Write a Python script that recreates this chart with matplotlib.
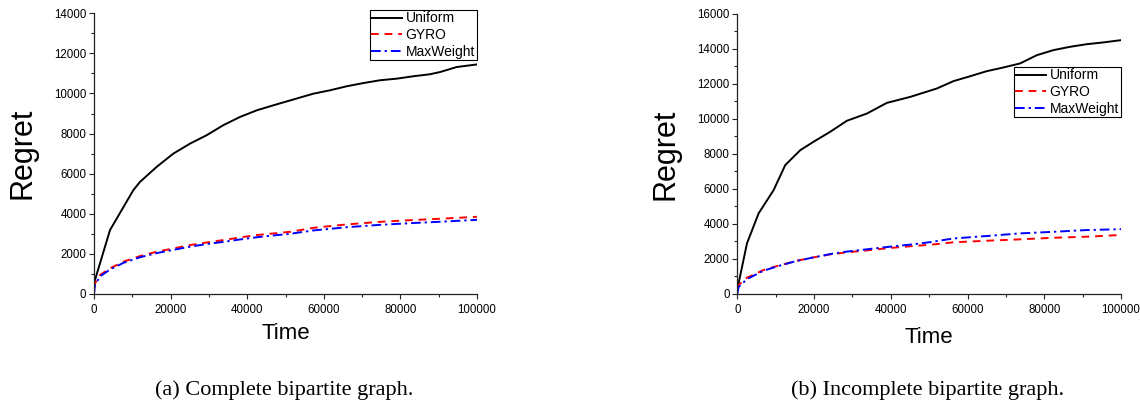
import matplotlib
matplotlib.use("Agg")
import matplotlib.pyplot as plt
from matplotlib.ticker import MultipleLocator

plt.rcParams['font.family'] = ['Liberation Sans', 'DejaVu Sans']

# ---- data: (a) complete bipartite graph ----
t_a_uni = [0, 260, 4180, 10270, 12000, 16360, 20700, 25070, 29420, 33760, 38120, 42480,
           46810, 52920, 57260, 61620, 65970, 70320, 74670, 79030, 83370, 87730, 90340,
           94700, 100000]
v_a_uni = [300, 700, 3190, 5180, 5590, 6340, 7000, 7500, 7920, 8420, 8830, 9160,
           9410, 9750, 9990, 10160, 10360, 10520, 10660, 10740, 10860, 10960, 11070,
           11320, 11450]

t_a_rb = [0, 260, 1570, 4180, 7650, 12000, 16360, 20700, 25070, 29420, 33760, 38120,
          42480, 46810, 51170, 57260, 65970, 74670, 83370, 92090, 100000]
v_a_gyro = [300, 530, 946, 1280, 1610, 1890, 2110, 2270, 2440, 2570, 2690, 2820,
            2940, 3020, 3100, 3300, 3470, 3600, 3690, 3770, 3850]
v_a_maxw = [0, 450, 880, 1220, 1550, 1830, 2040, 2200, 2360, 2490, 2600, 2720,
            2830, 2920, 3000, 3170, 3330, 3450, 3540, 3620, 3700]

# ---- data: (b) incomplete bipartite graph ----
t_b_uni = [0, 340, 2520, 5550, 9460, 12500, 16410, 19870, 24220, 28570, 33770, 38980,
           45050, 52000, 56330, 60680, 65020, 69350, 73700, 78040, 82370, 86720, 91070,
           95390, 100000]
v_b_uni = [300, 610, 2890, 4600, 5930, 7360, 8210, 8690, 9260, 9890, 10300, 10910,
           11250, 11730, 12150, 12430, 12720, 12930, 13160, 13630, 13920, 14110, 14260,
           14360, 14490]

t_b_rb = [0, 340, 2520, 6850, 11200, 15540, 19870, 24220, 28570, 32900, 37240, 41590,
          45910, 50260, 56330, 65020, 73700, 82370, 91070, 100000]
v_b_gyro = [300, 510, 930, 1370, 1650, 1900, 2090, 2260, 2380, 2470, 2570, 2660,
            2740, 2810, 2950, 3040, 3120, 3210, 3270, 3370]
v_b_maxw = [0, 400, 850, 1330, 1630, 1890, 2090, 2280, 2420, 2530, 2640, 2740,
            2840, 2960, 3170, 3310, 3460, 3550, 3650, 3700]

series_names = ["Uniform", "GYRO", "MaxWeight"]
x_ticks = [0, 20000, 40000, 60000, 80000, 100000]
captions = ["(a) Complete bipartite graph.", "(b) Incomplete bipartite graph."]

W, H = 1140, 404
fig = plt.figure(figsize=(W / 100, H / 100), dpi=100)

def px_axes(x0, x1, ytop, ybot):
    return fig.add_axes([x0 / W, 1 - ybot / H, (x1 - x0) / W, (ybot - ytop) / H])

ax_a = px_axes(94, 477, 13.3, 294)
ax_b = px_axes(737.3, 1121, 13.7, 294)

def style(ax, ymax, ystep, xpad):
    for s in ['top', 'right']:
        ax.spines[s].set_visible(False)
    for s in ['left', 'bottom']:
        ax.spines[s].set_linewidth(0.9)
        ax.spines[s].set_color('#222222')
    ax.set_xlim(0, 100000)
    ax.set_ylim(0, ymax)
    ax.set_xticks(x_ticks)
    ax.xaxis.set_minor_locator(MultipleLocator(10000))
    ax.yaxis.set_major_locator(MultipleLocator(ystep))
    ax.yaxis.set_minor_locator(MultipleLocator(ystep / 2))
    ax.tick_params(which='major', direction='out', length=3.5, width=0.8, labelsize=8.3,
                   pad=2, color='#222222')
    ax.tick_params(axis='x', which='major', pad=3.5)
    ax.tick_params(which='minor', direction='out', length=2, width=0.8, color='#222222')
    ax.set_xlabel("Time", fontsize=16, labelpad=xpad)
    ax.set_ylabel("Regret", fontsize=22, labelpad=12)

def draw(ax, tu, vu, tr, vg, vm):
    l1, = ax.plot(tu, vu, color='black', lw=1.4, solid_joinstyle='round')
    l2, = ax.plot(tr, vg, color='#ff0000', lw=1.4, dashes=(4, 3))
    l3, = ax.plot(tr, vm, color='#0000ff', lw=1.4, dashes=(5, 2, 1.2, 2))
    return [l1, l2, l3]

hs = draw(ax_a, t_a_uni, v_a_uni, t_a_rb, v_a_gyro, v_a_maxw)
style(ax_a, 14000, 2000, 5)
draw(ax_b, t_b_uni, v_b_uni, t_b_rb, v_b_gyro, v_b_maxw)
style(ax_b, 16000, 2000, 8)

def legend(ax, x, y):
    lg = ax.legend(hs, series_names, loc='upper right', bbox_to_anchor=(x / W, 1 - y / H),
                   bbox_transform=fig.transFigure, borderaxespad=0, fontsize=10,
                   handlelength=2.2, handletextpad=0.3, labelspacing=0.2,
                   borderpad=0.1, fancybox=False, framealpha=1, edgecolor='black')
    lg.get_frame().set_linewidth(0.8)

legend(ax_a, 476.5, 10)
legend(ax_b, 1120.5, 67)

fig.text(284.5 / W, 1 - 395 / H, captions[0], ha='center', va='baseline',
         fontsize=16, family='Liberation Serif')
fig.text(928 / W, 1 - 395 / H, captions[1], ha='center', va='baseline',
         fontsize=16, family='Liberation Serif')

fig.savefig("out.png", dpi=100)
